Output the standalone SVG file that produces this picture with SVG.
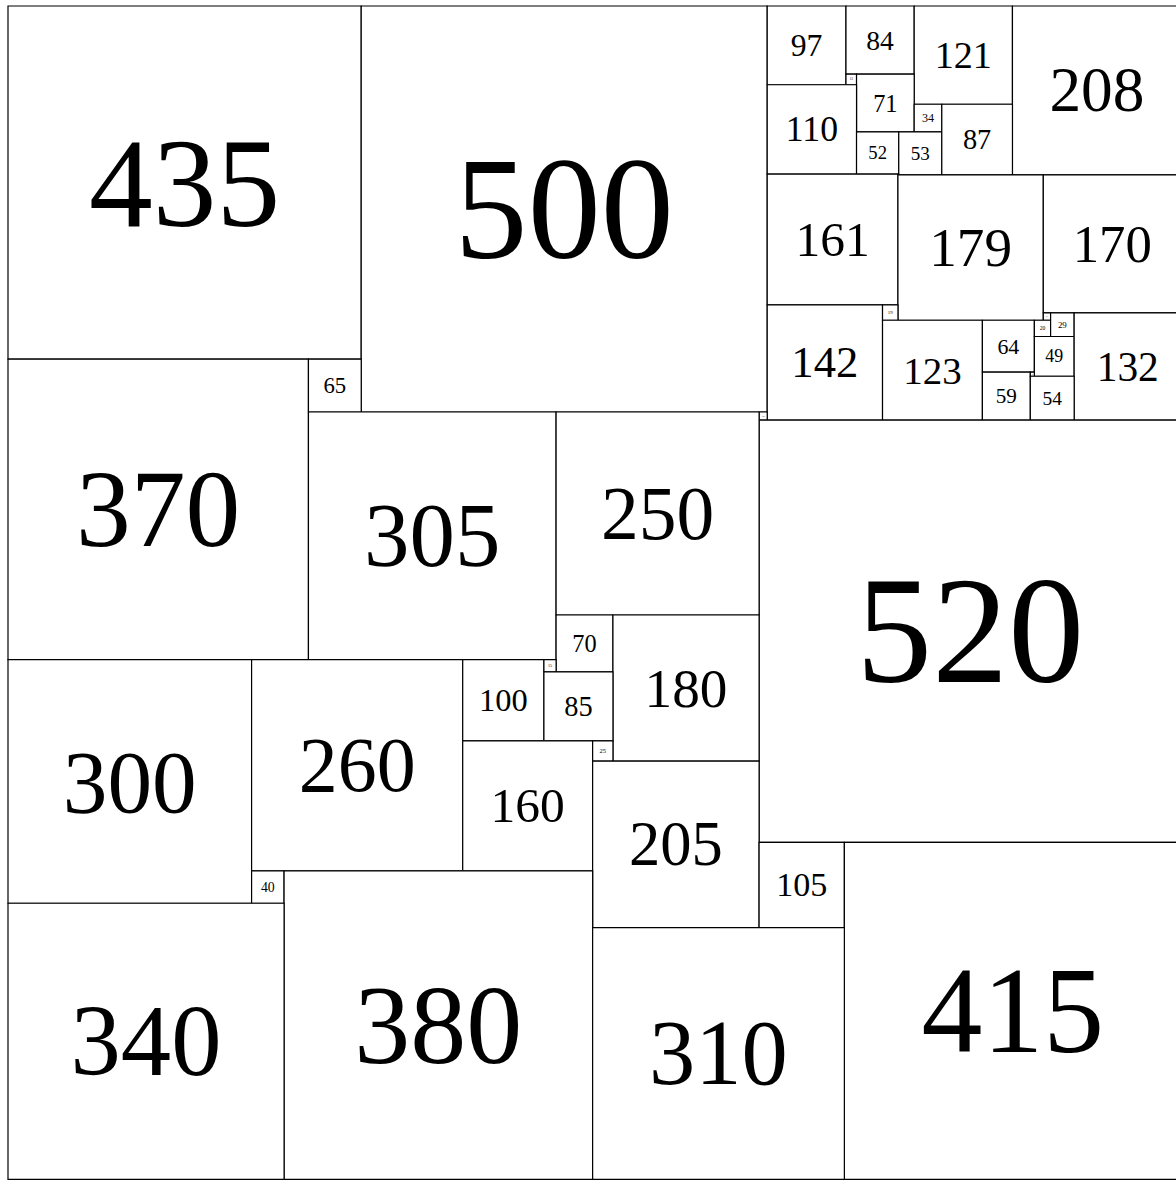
<svg xmlns="http://www.w3.org/2000/svg" width="1176" height="1180" viewBox="0 0 1176 1180">
<style>
.sq{fill:#fff;stroke:#000;stroke-width:1.2;vector-effect:non-scaling-stroke}
.lb{text-anchor:middle;dominant-baseline:central;fill:#000}
</style>
<rect x="0" y="0" width="1176" height="1180" fill="#fff"/>
<g transform="translate(8,6) scale(0.812)" font-family="'Liberation Serif', serif">
<g id="sq435"><rect class="sq" x="0" y="0" width="435" height="435"/><text class="lb" x="217.5" y="217.5" font-size="157">435</text></g>
<g id="sq500"><rect class="sq" x="435" y="0" width="500" height="500"/><text class="lb" x="685" y="250" font-size="180">500</text></g>
<g id="sq97"><rect class="sq" x="935" y="0" width="97" height="97"/><text class="lb" x="983.5" y="48.5" font-size="39">97</text></g>
<g id="sq84"><rect class="sq" x="1032" y="0" width="84" height="84"/><text class="lb" x="1074" y="42" font-size="34">84</text></g>
<g id="sq121"><rect class="sq" x="1116" y="0" width="121" height="121"/><text class="lb" x="1176.5" y="60.5" font-size="47">121</text></g>
<g id="sq208"><rect class="sq" x="1237" y="0" width="208" height="208"/><text class="lb" x="1341" y="104" font-size="78">208</text></g>
<g id="sq13"><rect class="sq" x="1032" y="84" width="13" height="13"/><text class="lb" x="1038.5" y="90.5" font-size="4">13</text></g>
<g id="sq71"><rect class="sq" x="1045" y="84" width="71" height="71"/><text class="lb" x="1080.5" y="119.5" font-size="30">71</text></g>
<g id="sq110"><rect class="sq" x="935" y="97" width="110" height="110"/><text class="lb" x="990" y="152" font-size="44">110</text></g>
<g id="sq34"><rect class="sq" x="1116" y="121" width="34" height="34"/><text class="lb" x="1133" y="138" font-size="15">34</text></g>
<g id="sq52"><rect class="sq" x="1045" y="155" width="52" height="52"/><text class="lb" x="1071" y="181" font-size="23">52</text></g>
<g id="sq53"><rect class="sq" x="1097" y="155" width="53" height="53"/><text class="lb" x="1123.5" y="181.5" font-size="23.5">53</text></g>
<g id="sq87"><rect class="sq" x="1150" y="121" width="87" height="87"/><text class="lb" x="1193.5" y="164.5" font-size="35">87</text></g>
<g id="sq1"><rect class="sq" x="1096" y="207" width="1" height="1"/></g>
<g id="sq161"><rect class="sq" x="935" y="207" width="161" height="161"/><text class="lb" x="1015.5" y="287.5" font-size="61">161</text></g>
<g id="sq179"><rect class="sq" x="1096" y="208" width="179" height="179"/><text class="lb" x="1185.5" y="297.5" font-size="68">179</text></g>
<g id="sq170"><rect class="sq" x="1275" y="208" width="170" height="170"/><text class="lb" x="1360" y="293" font-size="65">170</text></g>
<g id="sq142"><rect class="sq" x="935" y="368" width="142" height="142"/><text class="lb" x="1006" y="439" font-size="55">142</text></g>
<g id="sq19"><rect class="sq" x="1077" y="368" width="19" height="19"/><text class="lb" x="1086.5" y="377.5" font-size="6">19</text></g>
<g id="sq123"><rect class="sq" x="1077" y="387" width="123" height="123"/><text class="lb" x="1138.5" y="448.5" font-size="48">123</text></g>
<g id="sq64"><rect class="sq" x="1200" y="387" width="64" height="64"/><text class="lb" x="1232" y="419" font-size="27">64</text></g>
<g id="sq9"><rect class="sq" x="1275" y="378" width="9" height="9"/><text class="lb" x="1279.5" y="382.5" font-size="3">9</text></g>
<g id="sq20"><rect class="sq" x="1264" y="387" width="20" height="20"/><text class="lb" x="1274" y="397" font-size="7">20</text></g>
<g id="sq29"><rect class="sq" x="1284" y="378" width="29" height="29"/><text class="lb" x="1298.5" y="392.5" font-size="11">29</text></g>
<g id="sq49"><rect class="sq" x="1264" y="407" width="49" height="49"/><text class="lb" x="1288.5" y="431.5" font-size="22">49</text></g>
<g id="sq132"><rect class="sq" x="1313" y="378" width="132" height="132"/><text class="lb" x="1379" y="444" font-size="51">132</text></g>
<g id="sq59"><rect class="sq" x="1200" y="451" width="59" height="59"/><text class="lb" x="1229.5" y="480.5" font-size="26">59</text></g>
<g id="sq5"><rect class="sq" x="1259" y="451" width="5" height="5"/><text class="lb" x="1261.5" y="453.5" font-size="2">5</text></g>
<g id="sq54"><rect class="sq" x="1259" y="456" width="54" height="54"/><text class="lb" x="1286" y="483" font-size="24">54</text></g>
<g id="sq10"><rect class="sq" x="925" y="500" width="10" height="10"/><text class="lb" x="930" y="505" font-size="3">10</text></g>
<g id="sq520"><rect class="sq" x="925" y="510" width="520" height="520"/><text class="lb" x="1185" y="770" font-size="187">520</text></g>
<g id="sq370"><rect class="sq" x="0" y="435" width="370" height="370"/><text class="lb" x="185" y="620" font-size="135">370</text></g>
<g id="sq65"><rect class="sq" x="370" y="435" width="65" height="65"/><text class="lb" x="402.5" y="467.5" font-size="28">65</text></g>
<g id="sq305"><rect class="sq" x="370" y="500" width="305" height="305"/><text class="lb" x="522.5" y="652.5" font-size="112">305</text></g>
<g id="sq250"><rect class="sq" x="675" y="500" width="250" height="250"/><text class="lb" x="800" y="625" font-size="93">250</text></g>
<g id="sq70"><rect class="sq" x="675" y="750" width="70" height="70"/><text class="lb" x="710" y="785" font-size="30">70</text></g>
<g id="sq180"><rect class="sq" x="745" y="750" width="180" height="180"/><text class="lb" x="835" y="840" font-size="68">180</text></g>
<g id="sq300"><rect class="sq" x="0" y="805" width="300" height="300"/><text class="lb" x="150" y="955" font-size="110">300</text></g>
<g id="sq260"><rect class="sq" x="300" y="805" width="260" height="260"/><text class="lb" x="430" y="935" font-size="96">260</text></g>
<g id="sq100"><rect class="sq" x="560" y="805" width="100" height="100"/><text class="lb" x="610" y="855" font-size="40">100</text></g>
<g id="sq15"><rect class="sq" x="660" y="805" width="15" height="15"/><text class="lb" x="667.5" y="812.5" font-size="5">15</text></g>
<g id="sq85"><rect class="sq" x="660" y="820" width="85" height="85"/><text class="lb" x="702.5" y="862.5" font-size="35">85</text></g>
<g id="sq160"><rect class="sq" x="560" y="905" width="160" height="160"/><text class="lb" x="640" y="985" font-size="61">160</text></g>
<g id="sq25"><rect class="sq" x="720" y="905" width="25" height="25"/><text class="lb" x="732.5" y="917.5" font-size="8">25</text></g>
<g id="sq205"><rect class="sq" x="720" y="930" width="205" height="205"/><text class="lb" x="822.5" y="1032.5" font-size="77">205</text></g>
<g id="sq105"><rect class="sq" x="925" y="1030" width="105" height="105"/><text class="lb" x="977.5" y="1082.5" font-size="42">105</text></g>
<g id="sq415"><rect class="sq" x="1030" y="1030" width="415" height="415"/><text class="lb" x="1237.5" y="1237.5" font-size="150">415</text></g>
<g id="sq40"><rect class="sq" x="300" y="1065" width="40" height="40"/><text class="lb" x="320" y="1085" font-size="17">40</text></g>
<g id="sq380"><rect class="sq" x="340" y="1065" width="380" height="380"/><text class="lb" x="530" y="1255" font-size="138">380</text></g>
<g id="sq340"><rect class="sq" x="0" y="1105" width="340" height="340"/><text class="lb" x="170" y="1275" font-size="124">340</text></g>
<g id="sq310"><rect class="sq" x="720" y="1135" width="310" height="310"/><text class="lb" x="875" y="1290" font-size="114">310</text></g>
</g>
<g id="connectors"/>
</svg>
